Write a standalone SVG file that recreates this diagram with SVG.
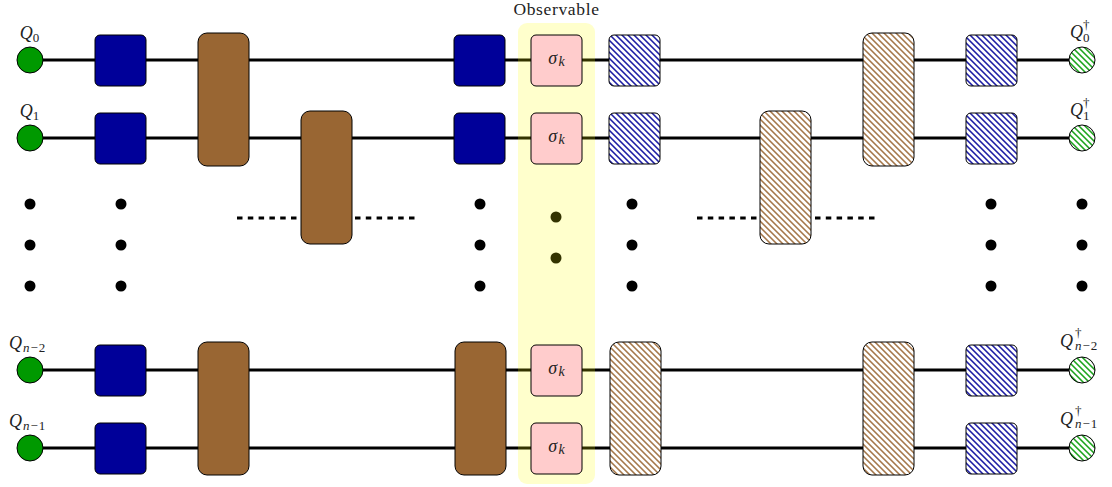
<svg xmlns="http://www.w3.org/2000/svg" width="1112" height="487" viewBox="0 0 1112 487">
<defs>
<pattern id="hb" width="4.2426" height="4.2426" patternUnits="userSpaceOnUse" patternTransform="rotate(45)"><rect width="4.2426" height="4.2426" fill="#fff"/><rect y="0" width="4.2426" height="1.4" fill="#000099"/></pattern>
<pattern id="hw" width="4.2426" height="4.2426" patternUnits="userSpaceOnUse" patternTransform="rotate(45)"><rect width="4.2426" height="4.2426" fill="#fff"/><rect y="0" width="4.2426" height="1.4" fill="#996633"/></pattern>
<pattern id="hg" width="4.2426" height="4.2426" patternUnits="userSpaceOnUse" patternTransform="rotate(45)"><rect width="4.2426" height="4.2426" fill="#fff"/><rect y="0" width="4.2426" height="1.4" fill="#009900"/></pattern>
</defs>
<style>
.w{stroke:#000;stroke-width:2.8;fill:none}
.d{stroke:#000;stroke-width:2.8;fill:none;stroke-dasharray:5.5 5.3}
.b{stroke:#000;stroke-width:1}
.blue{fill:#000099}.brown{fill:#996633}.pink{fill:#ffcccc}.hb{fill:url(#hb)}.hw{fill:url(#hw)}.hg{fill:url(#hg)}.green{fill:#009900}
.t{font-family:"Liberation Serif",serif;font-size:18px;fill:#222;text-anchor:middle}
.i{font-style:italic}
.s{font-size:13px}
.k{font-size:14px}
.m{font-size:13px;letter-spacing:1px}
.l{text-anchor:start}
.o{font-size:17.500px;letter-spacing:0.650px}
.dot{fill:#000}
</style>
<g id="connectors">
<path class="w" d="M30 60H1082M30 138H1082M30 370H1082M30 448H1082"/>
<path class="d" d="M237 218H300M355 218H416M697 218H760M815 218H876"/>
</g>
<g id="dots">
<g class="dot">
<circle cx="30" cy="204" r="5.500"/><circle cx="30" cy="245" r="5.500"/><circle cx="30" cy="286" r="5.500"/>
<circle cx="121" cy="204" r="5.500"/><circle cx="121" cy="245" r="5.500"/><circle cx="121" cy="286" r="5.500"/>
<circle cx="480" cy="204" r="5.500"/><circle cx="480" cy="245" r="5.500"/><circle cx="480" cy="286" r="5.500"/>
<circle cx="632" cy="204" r="5.500"/><circle cx="632" cy="245" r="5.500"/><circle cx="632" cy="286" r="5.500"/>
<circle cx="991" cy="204" r="5.500"/><circle cx="991" cy="245" r="5.500"/><circle cx="991" cy="286" r="5.500"/>
<circle cx="1082" cy="204" r="5.500"/><circle cx="1082" cy="245" r="5.500"/><circle cx="1082" cy="286" r="5.500"/>
<circle cx="556" cy="217" r="5.500"/><circle cx="556" cy="258" r="5.500"/>
</g>
</g>
<g id="observable">
<rect x="518" y="23" width="77" height="461" rx="9" fill="#ffff00" fill-opacity="0.2"/>
<text class="t o" x="556.500" y="15">Observable</text>
</g>
<g id="q0"><circle class="b green" cx="30" cy="60" r="13"/><text class="t" x="29.500" y="39"><tspan class="i">Q</tspan><tspan class="s" dy="3">0</tspan></text></g>
<g id="q1"><circle class="b green" cx="30" cy="138" r="13"/><text class="t" x="29.500" y="117"><tspan class="i">Q</tspan><tspan class="s" dy="3">1</tspan></text></g>
<g id="qn2"><circle class="b green" cx="30" cy="370" r="13"/><text class="t l" y="349"><tspan class="i" x="9">Q</tspan><tspan class="m i" dx="1" dy="3">n</tspan><tspan class="m">−2</tspan></text></g>
<g id="qn1"><circle class="b green" cx="30" cy="448" r="13"/><text class="t l" y="427"><tspan class="i" x="9">Q</tspan><tspan class="m i" dx="1" dy="3">n</tspan><tspan class="m">−1</tspan></text></g>
<g id="u1"><rect class="b blue" x="95" y="35" width="51" height="51" rx="5"/></g>
<g id="u2"><rect class="b blue" x="95" y="113" width="51" height="51" rx="5"/></g>
<g id="u3"><rect class="b blue" x="95" y="345" width="51" height="51" rx="5"/></g>
<g id="u4"><rect class="b blue" x="95" y="423" width="51" height="51" rx="5"/></g>
<g id="v1"><rect class="b brown" x="198" y="33" width="51" height="133" rx="9"/></g>
<g id="v2"><rect class="b brown" x="301" y="111" width="51" height="133" rx="9"/></g>
<g id="v3"><rect class="b brown" x="198" y="342" width="51" height="133" rx="9"/></g>
<g id="v4"><rect class="b brown" x="455" y="342" width="51" height="133" rx="9"/></g>
<g id="u5"><rect class="b blue" x="454" y="35" width="51" height="51" rx="5"/></g>
<g id="u6"><rect class="b blue" x="454" y="113" width="51" height="51" rx="5"/></g>
<g id="s1"><rect class="b pink" x="531" y="35" width="51" height="51" rx="5"/><text class="t" x="556.500" y="64"><tspan class="i">σ</tspan><tspan class="k i" dx="1.500" dy="2">k</tspan></text></g>
<g id="s2"><rect class="b pink" x="531" y="113" width="51" height="51" rx="5"/><text class="t" x="556.500" y="142"><tspan class="i">σ</tspan><tspan class="k i" dx="1.500" dy="2">k</tspan></text></g>
<g id="s3"><rect class="b pink" x="531" y="345" width="51" height="51" rx="5"/><text class="t" x="556.500" y="374"><tspan class="i">σ</tspan><tspan class="k i" dx="1.500" dy="2">k</tspan></text></g>
<g id="s4"><rect class="b pink" x="531" y="423" width="51" height="51" rx="5"/><text class="t" x="556.500" y="452"><tspan class="i">σ</tspan><tspan class="k i" dx="1.500" dy="2">k</tspan></text></g>
<g id="d1"><rect class="b hb" x="609" y="35" width="51" height="51" rx="5"/></g>
<g id="d2"><rect class="b hb" x="609" y="113" width="51" height="51" rx="5"/></g>
<g id="w1"><rect class="b hw" x="610" y="342" width="51" height="133" rx="9"/></g>
<g id="w2"><rect class="b hw" x="760" y="111" width="51" height="133" rx="9"/></g>
<g id="w3"><rect class="b hw" x="863" y="33" width="51" height="133" rx="9"/></g>
<g id="w4"><rect class="b hw" x="863" y="342" width="51" height="133" rx="9"/></g>
<g id="d3"><rect class="b hb" x="966" y="35" width="51" height="51" rx="5"/></g>
<g id="d4"><rect class="b hb" x="966" y="113" width="51" height="51" rx="5"/></g>
<g id="d5"><rect class="b hb" x="966" y="345" width="51" height="51" rx="5"/></g>
<g id="d6"><rect class="b hb" x="966" y="423" width="51" height="51" rx="5"/></g>
<g id="qd0"><circle class="b hg" cx="1082" cy="60" r="13"/><text class="t l" y="38"><tspan class="i" x="1070">Q</tspan><tspan class="s" x="1083" y="29">†</tspan></text><text class="t l" y="42"><tspan class="s" x="1083">0</tspan></text></g>
<g id="qd1"><circle class="b hg" cx="1082" cy="138" r="13"/><text class="t l" y="116"><tspan class="i" x="1070">Q</tspan><tspan class="s" x="1083" y="107">†</tspan></text><text class="t l" y="120"><tspan class="s" x="1083">1</tspan></text></g>
<g id="qdn2"><circle class="b hg" cx="1082" cy="370" r="13"/><text class="t l" y="347"><tspan class="i" x="1060">Q</tspan><tspan class="s" x="1075" y="337">†</tspan></text><text class="t l" y="350"><tspan class="m i" x="1075">n</tspan><tspan class="m">−2</tspan></text></g>
<g id="qdn1"><circle class="b hg" cx="1082" cy="448" r="13"/><text class="t l" y="425"><tspan class="i" x="1060">Q</tspan><tspan class="s" x="1075" y="415">†</tspan></text><text class="t l" y="428"><tspan class="m i" x="1075">n</tspan><tspan class="m">−1</tspan></text></g>
</svg>
